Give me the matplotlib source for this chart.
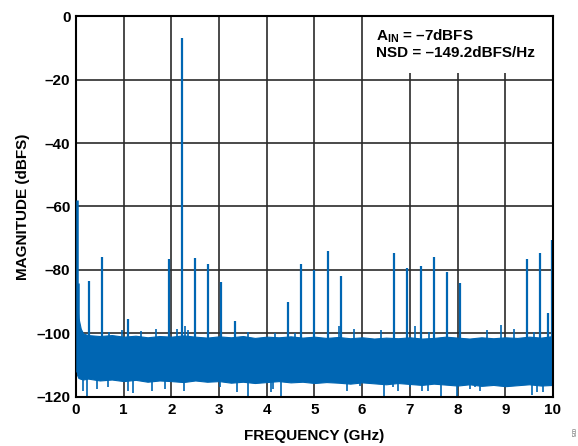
"""
FFT spectrum plot: single tone at -7 dBFS, NSD = -149.2 dBFS/Hz.
Noise floor drawn as an envelope band read off the reference, spurs as lines.
"""

import matplotlib
matplotlib.use('Agg')
import matplotlib.pyplot as plt
from matplotlib.patches import Rectangle

# ---------------------------------------------------------------------
# Data
# ---------------------------------------------------------------------
# noise floor envelope (GHz, dBFS)
env_freq = [0.0, 0.02, 0.05, 0.10, 0.15, 0.25, 0.50, 0.75, 1.00, 1.25, 1.50,
            1.75, 2.00, 2.25, 2.50, 2.75, 3.00, 3.25, 3.50, 3.75, 4.00,
            4.25, 4.50, 4.75, 5.00, 5.25, 5.50, 5.75, 6.00, 6.25, 6.50,
            6.75, 7.00, 7.25, 7.50, 7.75, 8.00, 8.25, 8.50, 8.75, 9.00,
            9.25, 9.50, 9.75, 10.0]
env_upper = [-86.0, -90.0, -95.0, -98.5, -100.0, -100.5, -100.8, -100.5, -101.0, -100.7, -101.2,
             -100.8, -101.0, -100.6, -101.0, -101.3, -100.9, -101.2, -100.8, -101.4, -101.0,
             -101.2, -100.9, -101.3, -101.0, -101.4, -101.1, -101.5, -101.2, -101.6, -101.3,
             -101.5, -101.2, -101.6, -101.4, -101.0, -101.3, -101.6, -101.2, -101.5, -101.2,
             -101.4, -101.0, -101.3, -100.8]
env_lower = [-111.5, -113.0, -114.0, -114.3, -114.5, -114.2, -114.8, -114.5, -115.0, -114.6, -115.2,
             -114.8, -115.0, -115.3, -114.8, -115.2, -115.0, -115.5, -115.2, -115.6, -115.3,
             -115.0, -115.4, -115.2, -115.6, -115.3, -115.5, -115.8, -115.4, -115.7, -116.0,
             -115.6, -115.9, -116.2, -115.8, -116.1, -116.4, -116.0, -116.5, -116.2, -116.6,
             -116.3, -116.0, -116.4, -116.2]

# DC bin
dc_freq = [0.02, 0.035]
dc_level = [-58.0, -84.0]

# fundamental, harmonics and interleaving spurs (GHz, dBFS)
spur_freq = [0.27, 0.54, 1.10, 1.94, 2.22, 2.49, 2.77, 3.05, 3.33, 4.45,
             4.72, 5.00, 5.28, 5.56, 6.67, 6.95, 7.23, 7.51, 7.78, 8.06,
             9.46, 9.73, 9.90, 9.99]
spur_level = [-83.5, -76.0, -95.5, -76.5, -7.0, -76.3, -78.0, -83.7, -96.0, -90.0,
              -78.0, -80.0, -74.0, -82.0, -74.7, -79.5, -78.6, -75.8, -80.6, -84.0,
              -76.4, -74.7, -93.5, -70.7]

# small noise peaks sticking out above the floor
peak_freq = [0.70, 0.97, 1.36, 1.67, 2.12, 2.28, 2.35, 3.61, 4.17, 4.60,
             5.52, 5.83, 6.39, 7.11, 7.40, 8.62, 8.90, 9.18, 9.60]
peak_level = [-99.6, -98.8, -99.3, -98.7, -98.5, -97.7, -99.0, -99.6, -99.9, -99.8,
              -97.7, -98.7, -99.0, -97.7, -99.5, -98.8, -97.2, -98.5, -99.6]

# deep noise dips below the floor
dip_freq = [0.15, 0.23, 0.43, 0.67, 1.08, 1.19, 1.59, 1.86, 2.27, 3.02,
            3.37, 3.61, 4.08, 4.13, 4.29, 5.68, 5.95, 6.45, 6.64, 6.75,
            7.00, 7.26, 7.38, 7.65, 7.98, 8.25, 8.37, 8.46, 9.56, 9.66, 9.79]
dip_level = [-118.0, -119.7, -117.5, -117.0, -118.0, -118.8, -118.0, -117.5, -118.0, -117.0,
             -118.4, -120.0, -118.4, -117.5, -120.0, -118.0, -116.5, -120.0, -117.0, -118.0,
             -117.0, -118.0, -118.0, -120.0, -120.0, -117.5, -117.0, -118.0, -119.4, -118.5, -118.5]

x_ticks = [0, 1, 2, 3, 4, 5, 6, 7, 8, 9, 10]
y_ticks = [0, -20, -40, -60, -80, -100, -120]
y_tick_labels = ['0', '–20', '–40', '–60', '–80', '–100', '–120']

# ---------------------------------------------------------------------
# Style
# ---------------------------------------------------------------------
plt.rcParams['font.family'] = ['Liberation Sans', 'DejaVu Sans']
plt.rcParams['mathtext.fontset'] = 'custom'
plt.rcParams['mathtext.rm'] = 'Liberation Sans'
plt.rcParams['mathtext.bf'] = 'Liberation Sans:bold'

blue = '#0066b3'
grid_color = '#2b2b2b'

fig = plt.figure(figsize=(5.78, 4.46), dpi=100)
ax = fig.add_axes([0.1315, 0.1099, 0.8252, 0.8542])

# noise floor band
ax.fill_between(env_freq, env_lower, env_upper, color=blue, linewidth=0.8,
                edgecolor=blue, zorder=3)

# DC
ax.vlines(dc_freq, -112, dc_level, color=blue, linewidth=1.8, zorder=6)

# spurs, peaks, dips
ax.vlines(spur_freq, -105, spur_level, color=blue, linewidth=1.6, zorder=3)
ax.vlines(peak_freq, -105, peak_level, color=blue, linewidth=1.2, zorder=3)
ax.vlines(dip_freq, -110, dip_level, color=blue, linewidth=1.2, zorder=3)

# grid
for xv in x_ticks:
    ax.axvline(xv, color=grid_color, linewidth=1.2, zorder=1)
for yv in y_ticks:
    ax.axhline(yv, color=grid_color, linewidth=1.2, zorder=1)

# white box behind the annotation
ax.add_patch(Rectangle((6.03, -17.8), 3.97, 17.8, facecolor='white',
                       edgecolor='none', zorder=2))
ax.text(6.3, -3.6, r'$\mathbf{A_{IN}}$ = –7dBFS', fontsize=11,
        fontweight='bold', va='top', ha='left', zorder=4)
ax.text(6.3, -9.4, 'NSD = –149.2dBFS/Hz', fontsize=11,
        fontweight='bold', va='top', ha='left', zorder=4)

ax.set_xlim(0, 10)
ax.set_ylim(-120, 0)
ax.set_xticks(x_ticks)
ax.set_xticklabels([str(v) for v in x_ticks], fontsize=11, fontweight='bold')
ax.set_yticks(y_ticks)
ax.set_yticklabels(y_tick_labels, fontsize=11, fontweight='bold')
ax.tick_params(length=0, pad=4)

for sp in ax.spines.values():
    sp.set_linewidth(1.5)
    sp.set_color('black')
    sp.set_zorder(5)

ax.set_xlabel('FREQUENCY (GHz)', fontsize=11, fontweight='bold', labelpad=9)
ax.set_ylabel('MAGNITUDE (dBFS)', fontsize=11, fontweight='bold', labelpad=5)

fig.text(0.99, 0.02, '005', rotation=270, fontsize=4, color='#555555',
         ha='center', va='bottom')

fig.savefig('out.png', dpi=100)
